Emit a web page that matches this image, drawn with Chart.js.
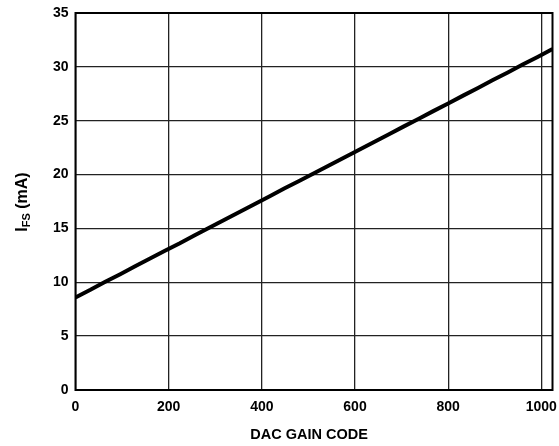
<!DOCTYPE html>
<html>
<head>
<meta charset="utf-8">
<script src="https://cdn.jsdelivr.net/npm/chart.js@4/dist/chart.umd.min.js"></script>
<style>
html,body{margin:0;padding:0;background:#fff;}
#wrap{position:relative;width:559px;height:446px;}
</style>
</head>
<body>
<div id="wrap"><canvas id="c" width="559" height="446"></canvas></div>
<script>
const gainCodes = [0,32,64,96,128,160,192,224,256,288,320,352,384,416,448,480,512,544,576,608,640,672,704,736,768,800,832,864,896,928,960,992,1024];
const ifsValues = [8.60,9.30,10.04,10.75,11.49,12.20,12.93,13.63,14.37,15.08,15.81,16.52,17.25,17.96,18.70,19.40,20.13,20.85,21.57,22.28,23.01,23.72,24.45,25.16,25.89,26.60,27.33,28.04,28.77,29.48,30.21,30.92,31.65];
const xTickValues = [0,200,400,600,800,1000];
const yTickValues = [0,5,10,15,20,25,30,35];
const xTitle = 'DAC GAIN CODE';
const yTitleMain = 'I';
const yTitleSub = 'FS';
const yTitleRest = ' (mA)';

const FONT = '"Liberation Sans", Arial, sans-serif';

const framePlugin = {
  id: 'frame',
  afterDraw(chart) {
    const {ctx, chartArea: a} = chart;
    ctx.save();
    ctx.strokeStyle = '#000';
    ctx.lineWidth = 2;
    ctx.strokeRect(a.left, a.top, a.right - a.left, a.bottom - a.top);
    // x title
    ctx.fillStyle = '#000';
    ctx.font = 'bold 14.5px ' + FONT;
    ctx.textAlign = 'center';
    ctx.textBaseline = 'middle';
    ctx.fillText(xTitle, 309, 435);
    // y title with subscript
    ctx.translate(20.5, 202);
    ctx.rotate(-Math.PI / 2);
    const big = 'bold 16px ' + FONT, small = 'bold 11px ' + FONT;
    ctx.font = big; const w1 = ctx.measureText(yTitleMain).width;
    const w3 = ctx.measureText(yTitleRest).width;
    ctx.font = small; const w2 = ctx.measureText(yTitleSub).width;
    let x = -(w1 + w2 + w3) / 2;
    ctx.textAlign = 'left';
    ctx.textBaseline = 'alphabetic';
    ctx.font = big; ctx.fillText(yTitleMain, x, 6); x += w1;
    ctx.font = small; ctx.fillText(yTitleSub, x, 9); x += w2;
    ctx.font = big; ctx.fillText(yTitleRest, x, 6);
    ctx.restore();
  }
};

new Chart(document.getElementById('c'), {
  type: 'line',
  data: {
    datasets: [{
      data: gainCodes.map((g, i) => ({x: g, y: ifsValues[i]})),
      borderColor: '#000',
      borderWidth: 4,
      pointRadius: 0,
      tension: 0,
      fill: false
    }]
  },
  options: {
    responsive: false,
    animation: false,
    layout: {padding: {left: 0, right: 6.5, top: 13, bottom: 0}},
    plugins: {legend: {display: false}, tooltip: {enabled: false}},
    scales: {
      x: {
        type: 'linear',
        min: 0, max: 1024,
        afterBuildTicks(scale) { scale.ticks = xTickValues.map(v => ({value: v})); },
        afterFit(scale) { scale.height = 56; scale.paddingRight = 0; scale.paddingLeft = 0; },
        grid: {color: '#222', lineWidth: 1.3, drawTicks: false},
        border: {display: false},
        ticks: {color: '#000', font: {family: FONT, size: 14, weight: 'bold'}, padding: 9, maxRotation: 0,
                callback: v => String(v)}
      },
      y: {
        min: 0, max: 35,
        afterBuildTicks(scale) { scale.ticks = yTickValues.map(v => ({value: v})); },
        afterFit(scale) { scale.width = 75.5; scale.paddingTop = 0; scale.paddingBottom = 0; },
        grid: {color: '#222', lineWidth: 1.3, drawTicks: false},
        border: {display: false},
        ticks: {color: '#000', font: {family: FONT, size: 14, weight: 'bold'}, padding: 7,
                callback: v => String(v)}
      }
    }
  },
  plugins: [framePlugin]
});
</script>
</body>
</html>
